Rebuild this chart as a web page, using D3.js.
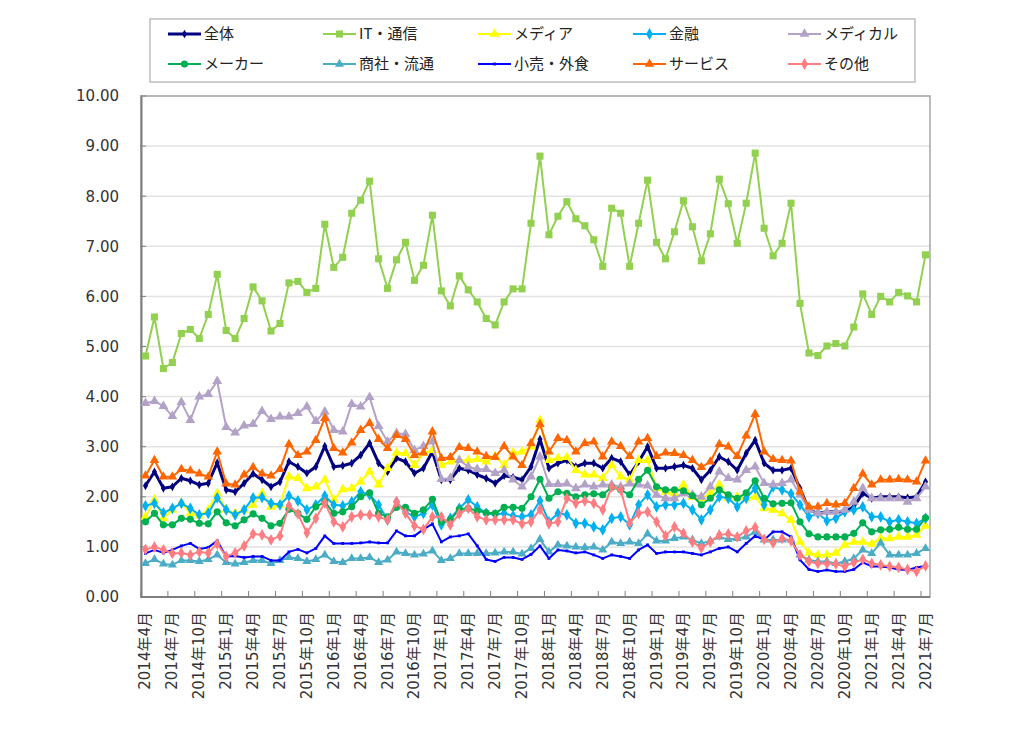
<!DOCTYPE html>
<html><head><meta charset="utf-8">
<script src="https://cdn.jsdelivr.net/npm/d3@7"></script>
<style>body{margin:0;background:#fff;}svg{display:block;}</style>
</head><body>
<svg id="chart" width="1024" height="744"></svg>
<script>
const seriesNames = ["全体","IT・通信","メディア","金融","メディカル","メーカー","商社・流通","小売・外食","サービス","その他"];
const yTickLabels = ["0.00","1.00","2.00","3.00","4.00","5.00","6.00","7.00","8.00","9.00","10.00"];
const xTickLabels = ["2014年4月","2014年7月","2014年10月","2015年1月","2015年4月","2015年7月","2015年10月","2016年1月","2016年4月","2016年7月","2016年10月","2017年1月","2017年4月","2017年7月","2017年10月","2018年1月","2018年4月","2018年7月","2018年10月","2019年1月","2019年4月","2019年7月","2019年10月","2020年1月","2020年4月","2020年7月","2020年10月","2021年1月","2021年4月","2021年7月"];
const categories = [];
for (let y = 2014, m = 4; categories.length < 88; ) { categories.push(y + "年" + m + "月"); m++; if (m > 12) { m = 1; y++; } }

const totalValues = [2.22,2.50,2.17,2.20,2.37,2.32,2.24,2.27,2.68,2.14,2.10,2.27,2.46,2.34,2.20,2.30,2.70,2.60,2.47,2.60,3.01,2.60,2.62,
2.67,2.83,3.07,2.67,2.50,2.77,2.70,2.47,2.57,2.90,2.34,2.34,2.57,2.53,2.44,2.37,2.27,2.42,2.39,2.34,2.60,3.15,
2.57,2.67,2.73,2.60,2.67,2.67,2.57,2.77,2.70,2.44,2.70,3.00,2.57,2.57,2.60,2.63,2.57,2.34,2.53,2.80,2.70,2.53,2.87,
3.13,2.67,2.53,2.53,2.57,2.17,1.74,1.67,1.70,1.70,1.70,1.80,2.07,1.97,2.00,2.00,2.00,1.98,2.00,2.30];
const itValues = [4.81,5.59,4.56,4.68,5.26,5.34,5.16,5.64,6.44,5.32,
5.16,5.56,6.19,5.91,5.31,5.46,6.27,6.30,6.08,6.16,
7.44,6.58,6.78,7.66,7.92,8.30,6.75,6.16,6.73,7.08,
6.32,6.62,7.62,6.11,5.81,6.41,6.13,5.89,5.56,5.43,
5.89,6.15,6.15,7.46,8.80,7.23,7.60,7.89,7.55,7.41,
7.13,6.60,7.76,7.66,6.60,7.46,8.32,7.08,6.75,7.29,
7.91,7.39,6.71,7.25,8.34,7.85,7.06,7.86,8.86,7.36,
6.81,7.06,7.86,5.86,4.87,4.82,5.01,5.06,5.01,5.39,
6.05,5.64,6.00,5.89,6.08,6.01,5.89,6.83];
const mediaValues = [1.60,1.94,1.57,1.74,1.88,1.67,1.62,1.74,2.07,1.74,1.67,1.74,1.84,2.07,1.80,1.84,2.40,2.37,2.17,2.20,2.34,1.94,2.15,
2.17,2.30,2.50,2.24,2.57,2.88,2.87,2.63,2.87,2.93,2.63,2.70,2.73,2.73,2.75,2.70,2.81,2.63,2.88,2.90,3.00,3.53,
2.73,2.77,2.79,2.53,2.44,2.44,2.37,2.63,2.40,2.34,2.73,2.73,2.17,2.10,2.07,2.24,2.00,1.97,2.07,2.24,1.97,2.00,1.97,
2.00,1.77,1.74,1.67,1.54,1.10,0.88,0.84,0.84,0.88,1.04,1.10,1.10,1.06,1.17,1.17,1.20,1.20,1.24,1.42];
const financeValues = [1.82,1.87,1.68,1.77,1.87,1.77,1.64,1.67,1.98,1.74,1.64,1.74,1.98,1.99,1.87,1.84,2.02,1.92,1.74,1.84,2.02,1.84,1.82,
1.90,2.10,2.04,1.84,1.54,1.90,1.70,1.60,1.67,1.84,1.44,1.57,1.77,1.94,1.80,1.67,1.64,1.67,1.62,1.60,1.64,1.92,
1.50,1.67,1.64,1.47,1.47,1.40,1.34,1.57,1.60,1.44,1.84,2.04,1.80,1.84,1.84,1.87,1.74,1.54,1.74,2.00,1.97,1.80,1.97,
2.17,1.84,2.20,2.14,2.06,1.84,1.60,1.67,1.52,1.57,1.70,1.74,1.80,1.60,1.60,1.50,1.54,1.50,1.47,1.57];
const medicalValues = [3.87,3.91,3.81,3.61,3.89,3.53,4.00,4.05,4.31,3.39,3.28,3.42,3.45,3.71,3.55,3.60,3.60,3.67,3.80,3.51,3.70,3.33,3.30,
3.85,3.80,3.99,3.41,3.10,3.27,3.25,2.93,3.01,3.10,2.35,2.37,2.73,2.60,2.55,2.55,2.47,2.53,2.34,2.20,2.40,2.80,
2.25,2.25,2.26,2.17,2.24,2.20,2.24,2.24,2.20,2.26,2.24,2.22,2.04,1.97,1.97,2.07,2.04,2.00,2.20,2.50,2.37,2.34,2.53,
2.60,2.27,2.24,2.27,2.34,2.04,1.74,1.67,1.70,1.70,1.74,1.90,2.17,1.97,1.97,1.97,1.97,1.90,1.97,2.20];
const makerValues = [1.50,1.67,1.44,1.44,1.57,1.55,1.47,1.46,1.70,1.48,1.42,1.54,1.66,1.57,1.42,1.47,1.75,1.67,1.55,1.80,1.90,1.67,1.70,
1.80,2.00,2.08,1.67,1.60,1.79,1.79,1.67,1.74,1.95,1.50,1.54,1.75,1.77,1.72,1.68,1.67,1.79,1.79,1.77,2.00,2.35,
1.97,2.10,2.07,2.00,2.04,2.06,2.04,2.19,2.14,2.04,2.35,2.53,2.20,2.14,2.14,2.12,2.02,1.84,1.97,2.14,2.04,1.97,2.08,
2.32,1.97,1.86,1.87,1.88,1.50,1.26,1.20,1.20,1.20,1.20,1.27,1.48,1.30,1.34,1.35,1.39,1.35,1.35,1.58];
const tradingValues = [0.67,0.75,0.66,0.64,0.73,0.73,0.71,0.75,0.84,0.69,0.66,0.69,0.73,0.73,0.67,0.73,0.79,0.77,0.71,0.75,0.84,0.71,0.69,
0.77,0.77,0.79,0.69,0.74,0.90,0.87,0.84,0.86,0.92,0.73,0.77,0.87,0.87,0.87,0.87,0.88,0.90,0.90,0.86,0.97,1.15,
0.90,1.04,1.02,1.00,0.99,1.00,0.94,1.10,1.07,1.10,1.07,1.26,1.12,1.12,1.17,1.20,1.14,1.07,1.12,1.20,1.15,1.17,1.20,
1.30,1.14,1.14,1.14,1.14,0.84,0.74,0.71,0.71,0.67,0.71,0.77,0.94,0.87,1.08,0.84,0.84,0.84,0.87,0.97];
const retailValues = [0.87,0.94,0.88,0.94,1.02,1.07,0.96,0.99,1.12,0.81,0.82,0.79,0.81,0.81,0.73,0.73,0.90,0.95,0.88,0.97,1.22,1.07,1.07,
1.07,1.08,1.10,1.08,1.08,1.32,1.22,1.22,1.35,1.46,1.10,1.20,1.22,1.26,1.02,0.75,0.71,0.79,0.79,0.75,0.85,1.02,
0.77,0.94,0.92,0.88,0.90,0.84,0.77,0.84,0.81,0.77,0.94,1.04,0.87,0.90,0.90,0.90,0.87,0.84,0.90,0.97,1.00,0.90,1.07,
1.22,1.14,1.30,1.30,1.20,0.74,0.55,0.51,0.54,0.51,0.51,0.55,0.69,0.61,0.61,0.59,0.55,0.54,0.59,0.62];
const serviceValues = [2.42,2.73,2.40,2.40,2.55,2.52,2.46,2.40,2.90,2.26,2.24,2.44,2.59,2.46,2.42,2.55,3.05,2.83,2.90,3.13,3.57,2.97,2.88,
3.08,3.33,3.47,3.15,2.97,3.23,3.15,2.83,2.88,3.30,2.77,2.79,2.99,2.97,2.90,2.81,2.79,3.01,2.80,2.63,3.07,3.45,
2.90,3.17,3.13,2.90,3.07,3.10,2.80,3.10,3.01,2.81,3.10,3.17,2.81,2.88,2.87,2.83,2.73,2.59,2.70,3.05,3.00,2.81,3.22,
3.65,2.90,2.75,2.73,2.72,2.10,1.80,1.80,1.87,1.84,1.87,2.17,2.46,2.24,2.34,2.34,2.35,2.34,2.30,2.72];
const otherValues = [0.95,1.00,0.94,0.87,0.88,0.84,0.90,0.88,1.06,0.81,0.88,1.02,1.26,1.24,1.14,1.22,1.82,1.66,1.28,1.57,1.88,1.50,1.40,
1.60,1.64,1.64,1.60,1.54,1.90,1.67,1.42,1.35,1.60,1.60,1.44,1.66,1.77,1.60,1.54,1.54,1.54,1.54,1.46,1.50,1.75,
1.46,1.50,1.97,1.87,1.92,1.87,1.74,2.20,2.14,1.48,1.67,1.70,1.50,1.22,1.40,1.27,1.10,0.98,1.10,1.24,1.26,1.20,1.32,
1.39,1.15,1.08,1.17,1.12,0.84,0.71,0.67,0.67,0.66,0.61,0.69,0.75,0.67,0.64,0.61,0.59,0.55,0.51,0.62];

const seriesValues = [totalValues,itValues,mediaValues,financeValues,medicalValues,makerValues,tradingValues,retailValues,serviceValues,otherValues];
const colors = ["#000080","#92d050","#ffff00","#00b0f0","#b3a2c7","#00b050","#4bacc6","#0000ff","#ff6600","#ff7c80"];
const symbols = [d3.symbolDiamond,d3.symbolSquare,d3.symbolTriangle,d3.symbolDiamond,d3.symbolTriangle,d3.symbolCircle,d3.symbolTriangle,d3.symbolSquare,d3.symbolTriangle,d3.symbolDiamond];
const symSizes = [22,50,42,40,42,40,36,8,40,40];
const lineWidths = [3,2,2,2,2,2,2,2,2,2];

const svg = d3.select("#chart");
const font = "'DejaVu Sans','Noto Sans CJK JP',sans-serif";
const L = 141, R = 930, T = 96, B = 597;

const x = d3.scaleBand().domain(d3.range(categories.length)).range([L, R]).padding(0);
const cx = i => x(i) + x.bandwidth() / 2;
const y = d3.scaleLinear().domain([0, 10]).range([B, T]);

// gridlines
svg.append("g").selectAll("line").data(d3.range(1, 11)).join("line")
  .attr("x1", L).attr("x2", R).attr("y1", d => y(d)).attr("y2", d => y(d))
  .attr("stroke", "#e3e3e3").attr("stroke-width", 1.5);

// frame
svg.append("rect").attr("x", L).attr("y", T).attr("width", R - L).attr("height", B - T)
  .attr("fill", "none").attr("stroke", "#a6a6a6").attr("stroke-width", 1.5);

// y axis
const yAxis = d3.axisLeft(y).tickValues(d3.range(0, 11)).tickFormat((d, i) => yTickLabels[i]).tickSize(0).tickPadding(22);
const gy = svg.append("g").attr("transform", `translate(${L},0)`).call(yAxis);
gy.select(".domain").attr("stroke", "#7f7f7f").attr("stroke-width", 2);
gy.selectAll("text").attr("font-family", font).attr("font-size", 15).attr("fill", "#333");
svg.append("g").selectAll("line").data(d3.range(0, 11)).join("line")
  .attr("x1", L - 1).attr("x2", L + 5).attr("y1", d => y(d)).attr("y2", d => y(d))
  .attr("stroke", "#7f7f7f").attr("stroke-width", 1);

// x axis ticks (inside, every 3 months)
const tickIdx = d3.range(0, categories.length + 1, 3);
svg.append("g").selectAll("line").data(tickIdx).join("line")
  .attr("x1", d => L + d * x.bandwidth()).attr("x2", d => L + d * x.bandwidth())
  .attr("y1", B).attr("y2", B - 6).attr("stroke", "#7f7f7f").attr("stroke-width", 1);
svg.append("line").attr("x1", L).attr("x2", R).attr("y1", B).attr("y2", B).attr("stroke", "#7f7f7f").attr("stroke-width", 2);

// x labels
svg.append("g").selectAll("text").data(xTickLabels).join("text")
  .attr("transform", (d, i) => `translate(${cx(i * 3) + 5},612) rotate(-90)`)
  .attr("text-anchor", "end").attr("font-family", font).attr("font-size", 15).attr("fill", "#333")
  .text(d => d);

// series
const line = d3.line().x((d, i) => cx(i)).y(d => y(d));
seriesValues.forEach((vals, s) => {
  const g = svg.append("g");
  g.append("path").datum(vals).attr("d", line).attr("fill", "none")
    .attr("stroke", colors[s]).attr("stroke-width", lineWidths[s]).attr("stroke-linejoin", "round");
  g.selectAll("path.m").data(vals).join("path").attr("class", "m")
    .attr("transform", (d, i) => `translate(${cx(i)},${y(d)})`)
    .attr("d", d3.symbol().type(symbols[s]).size(symSizes[s]))
    .attr("fill", colors[s]);
});

// legend
svg.append("rect").attr("x", 150).attr("y", 19).attr("width", 765).attr("height", 63)
  .attr("fill", "#fff").attr("stroke", "#bfbfbf").attr("stroke-width", 1.5);
seriesNames.forEach((name, s) => {
  const col = s % 5, row = Math.floor(s / 5);
  const lx = 168 + col * 155, ly = 34 + row * 30;
  const g = svg.append("g");
  g.append("line").attr("x1", lx).attr("x2", lx + 33).attr("y1", ly).attr("y2", ly)
    .attr("stroke", colors[s]).attr("stroke-width", lineWidths[s]);
  g.append("path").attr("transform", `translate(${lx + 16.5},${ly})`)
    .attr("d", d3.symbol().type(symbols[s]).size(symSizes[s])).attr("fill", colors[s]);
  g.append("text").attr("x", lx + 36).attr("y", ly).attr("dy", "0.35em")
    .attr("font-family", "'Noto Sans CJK JP',sans-serif").attr("font-size", 15).attr("fill", "#222").text(name);
});
</script>
</body></html>
